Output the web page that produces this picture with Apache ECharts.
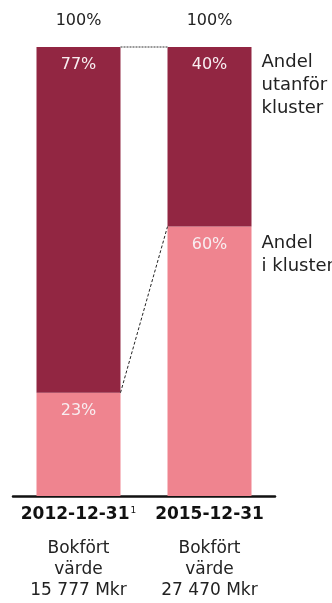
<!DOCTYPE html>
<html>
<head>
<meta charset="utf-8">
<style>
  html, body { margin: 0; padding: 0; background: #fff; }
  #chart { width: 332px; height: 603px; }
</style>
<script src="https://cdn.jsdelivr.net/npm/echarts@6/dist/echarts.min.js"></script>
</head>
<body>
<div id="chart"></div>
<script>
// Dates of the two snapshots and their footnote markers
const dates = ['2012-12-31', '2015-12-31'];
const footnotes = ['1', ''];
// Book value per snapshot
const bookValues = ['15 777 Mkr', '27 470 Mkr'];
// Share (%) of holdings inside and outside clusters
const inCluster = [23, 60];
const outsideCluster = [77, 40];
const totals = [100, 100];
// Side annotations for the two segments
const segmentNames = ['Andel\ni kluster', 'Andel\nutanför\nkluster'];

const DARK = '#922642';
const LIGHT = '#ef848f';
const FONT = 'DejaVu Sans';
const BAR_W = 84;

const chart = echarts.init(document.getElementById('chart'));

const insideLabel = {
  show: true,
  position: 'insideTop',
  distance: 10,
  color: '#f8eef1',
  fontFamily: FONT,
  fontSize: 16,
  formatter: p => p.value + '%'
};

chart.setOption({
  animation: false,
  grid: { left: 13, right: 57, top: 47, bottom: 107 },
  xAxis: [
    {
      type: 'category',
      data: dates,
      axisLine: { lineStyle: { color: '#111', width: 2.5 } },
      axisTick: { show: false },
      axisLabel: {
        margin: 10,
        interval: 0,
        formatter: (v, i) => '{d|' + v + '}' + (footnotes[i] ? '{s|' + footnotes[i] + '}' : ''),
        rich: {
          d: { fontFamily: FONT, fontWeight: 'bold', fontSize: 17, color: '#111', lineHeight: 18 },
          s: { fontFamily: FONT, fontSize: 9, color: '#111', verticalAlign: 'top', lineHeight: 18, padding: [0, 0, 8, 1] }
        }
      }
    },
    {
      type: 'category',
      data: dates,
      position: 'bottom',
      axisLine: { show: false },
      axisTick: { show: false },
      axisLabel: {
        margin: 42,
        interval: 0,
        fontFamily: FONT,
        fontSize: 17,
        lineHeight: 21,
        color: '#222',
        formatter: (v, i) => 'Bokfört\nvärde\n' + bookValues[i]
      }
    }
  ],
  yAxis: {
    type: 'value',
    min: 0,
    max: 100,
    show: false
  },
  series: [
    {
      name: 'i kluster',
      type: 'bar',
      stack: 'andel',
      barWidth: BAR_W,
      data: inCluster,
      itemStyle: { color: LIGHT },
      label: insideLabel
    },
    {
      name: 'utanför kluster',
      type: 'bar',
      stack: 'andel',
      barWidth: BAR_W,
      data: outsideCluster,
      itemStyle: { color: DARK },
      label: insideLabel
    },
    {
      // total labels above each stack
      type: 'bar',
      stack: 'andel',
      barWidth: BAR_W,
      data: [0, 0],
      itemStyle: { color: 'transparent' },
      label: {
        show: true,
        position: 'top',
        distance: 18,
        color: '#222',
        fontFamily: FONT,
        fontSize: 16,
        formatter: p => totals[p.dataIndex] + '%'
      },
      silent: true
    },
    {
      // connectors between the stacks and segment annotations
      type: 'custom',
      data: [0],
      silent: true,
      z: 5,
      renderItem: (params, api) => {
        const half = BAR_W / 2;
        const a0 = api.coord([0, inCluster[0]]);
        const a1 = api.coord([1, inCluster[1]]);
        const t0 = api.coord([0, totals[0]]);
        const t1 = api.coord([1, totals[1]]);
        const rightX = a1[0] + half + 10;
        const textStyle = (txt, y) => ({
          type: 'text',
          style: {
            text: txt, x: rightX, y: y,
            fill: '#222', font: '18px "' + FONT + '"',
            lineHeight: 23, verticalAlign: 'top', align: 'left'
          }
        });
        return {
          type: 'group',
          children: [
            {
              type: 'line',
              shape: { x1: t0[0] + half, y1: t0[1], x2: t1[0] - half, y2: t1[1] },
              style: { stroke: '#999', lineWidth: 2, lineDash: [2, 1] }
            },
            {
              type: 'line',
              shape: { x1: a0[0] + half, y1: a0[1], x2: a1[0] - half, y2: a1[1] },
              style: { stroke: '#222', lineWidth: 1, lineDash: [3, 2] }
            },
            textStyle(segmentNames[1], t1[1] + 4),
            textStyle(segmentNames[0], a1[1] + 5)
          ]
        };
      }
    }
  ]
});
</script>
</body>
</html>
